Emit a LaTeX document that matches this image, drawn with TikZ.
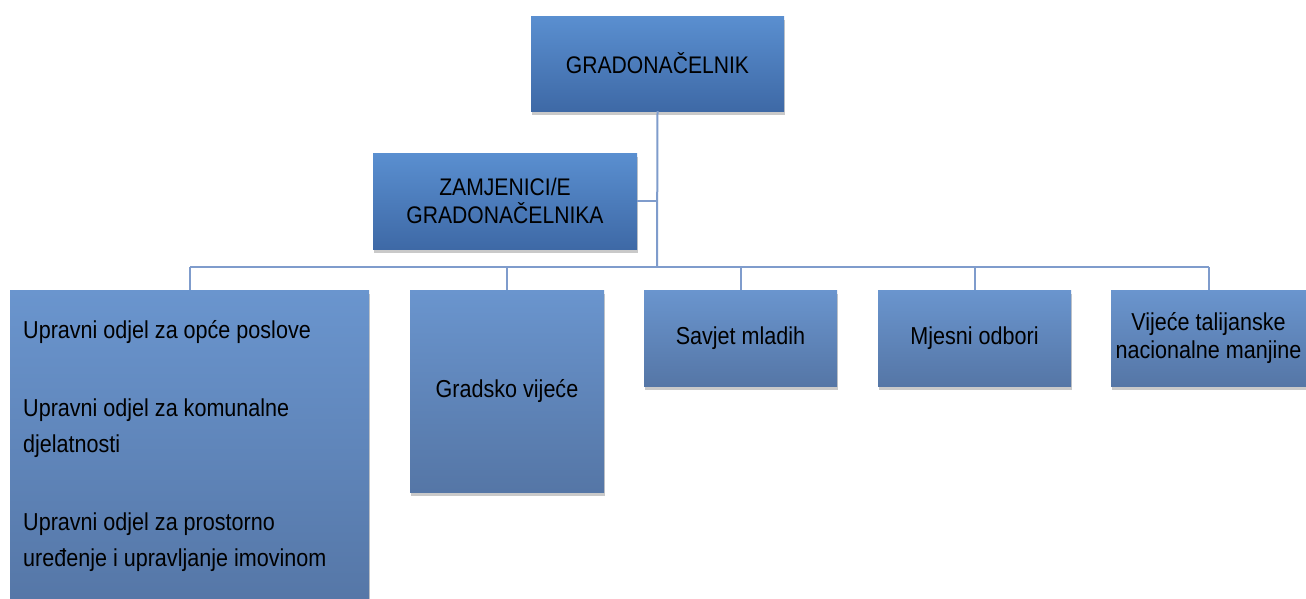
\documentclass[tikz,border=0pt]{standalone}
\usepackage{fontspec}
\setmainfont{Liberation Sans}[FakeStretch=0.88]
\usetikzlibrary{shadows}
\definecolor{toptopA}{HTML}{5A8FD0}
\definecolor{topbotA}{HTML}{3E69A6}
\definecolor{chtop}{HTML}{6A95CE}
\definecolor{chbot}{HTML}{5576A6}
\definecolor{linec}{HTML}{7F9CCC}
\tikzset{
  mainbox/.style={rectangle, inner sep=0pt, top color=toptopA, bottom color=topbotA,
    draw=none, drop shadow={shadow xshift=1pt, shadow yshift=-4pt, opacity=0.35, fill=black!60},
    font=\fontsize{24}{28}\selectfont, align=center, text=black},
  childbox/.style={rectangle, inner sep=0pt, top color=chtop, bottom color=chbot,
    draw=none, drop shadow={shadow xshift=1pt, shadow yshift=-4pt, opacity=0.35, fill=black!60},
    font=\fontsize{24.5}{28}\selectfont, align=center, text=black},
  conn/.style={draw=linec, line width=2pt},
  lefttext/.style={anchor=west, inner sep=0pt, font=\fontsize{24.5}{36}\selectfont, align=left, text=black}
}
\begin{document}
\begin{tikzpicture}[x=1pt,y=-1pt]
\useasboundingbox (0,0) rectangle (1306,598);
\clip (0,0) rectangle (1306,598);
\fill[white] (0,0) rectangle (1306,598);
\coordinate (bl) at (190,267);
\coordinate (br) at (1209,267);
\coordinate (jz) at (657,201);
\coordinate (jb) at (657,267);
\node[mainbox, minimum width=253pt, minimum height=95pt] (gn) at (657.5,63.5) {GRADONAČELNIK};
\node[mainbox, minimum width=264pt, minimum height=96pt] (zam) at (505,201) {ZAMJENICI/E\\GRADONAČELNIKA};
\node[childbox, minimum width=359pt, minimum height=318pt] (c1) at (189.5,449) {};
\node[childbox, minimum width=194pt, minimum height=202pt] (c2) at (507,391) {Gradsko vijeće};
\node[childbox, minimum width=193pt, minimum height=96pt] (c3) at (740.5,338) {Savjet mladih};
\node[childbox, minimum width=193pt, minimum height=96pt] (c4) at (974.5,338) {Mjesni odbori};
\node[childbox, minimum width=195pt, minimum height=96pt] (c5) at (1208.5,338) {Vijeće talijanske\\nacionalne manjine};
\node[lefttext] (t1) at (23,332) {Upravni odjel za opće poslove};
\node[lefttext] (t2) at (23,428) {Upravni odjel za komunalne\\djelatnosti};
\node[lefttext] (t3) at (23,542) {Upravni odjel za prostorno\\uređenje i upravljanje imovinom};
\draw[conn] (gn.south) -- (jb);
\draw[conn] (zam.east) -- (jz);
\draw[conn] (bl) -- (br);
\draw[conn] (bl) -- (c1.north -| bl);
\draw[conn] (jb -| c2.north) -- (c2.north);
\draw[conn] (jb -| c3.north) -- (c3.north);
\draw[conn] (jb -| c4.north) -- (c4.north);
\draw[conn] (br) -- (c5.north -| br);
\end{tikzpicture}
\end{document}
